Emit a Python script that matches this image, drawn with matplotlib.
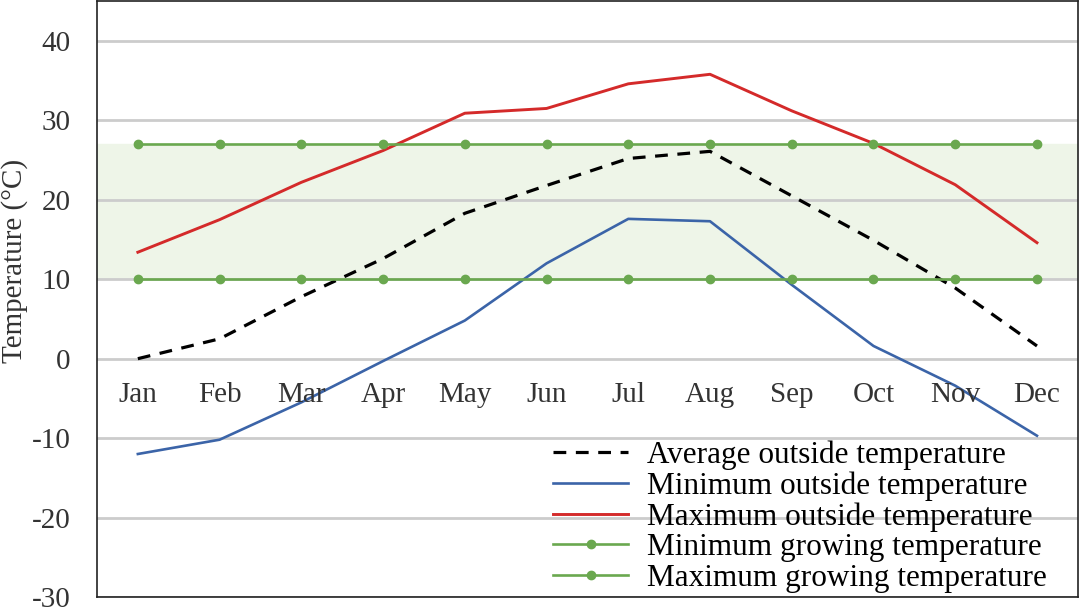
import numpy as np
import matplotlib.pyplot as plt

months = ['Jan', 'Feb', 'Mar', 'Apr', 'May', 'Jun', 'Jul', 'Aug', 'Sep', 'Oct', 'Nov', 'Dec']
avg_temp = [0.0, 2.5, 7.8, 12.6, 18.3, 21.8, 25.2, 26.1, 20.5, 14.9, 8.9, 1.6]
min_temp = [-12.0, -10.2, -5.5, -0.3, 4.8, 12.0, 17.6, 17.3, 9.3, 1.6, -3.4, -9.7]
max_temp = [13.4, 17.5, 22.2, 26.2, 30.9, 31.5, 34.6, 35.8, 31.2, 27.1, 21.9, 14.6]
min_grow = [10] * 12
max_grow = [27] * 12

plt.rcParams['font.family'] = ['Liberation Serif', 'DejaVu Serif']
plt.rcParams['axes.unicode_minus'] = False

fig = plt.figure(figsize=(10.8, 6.07), dpi=100)
ax = fig.add_axes([0.0898, 0.0165, 0.9082, 0.9815])

x = np.arange(len(months))
green = '#6aa84f'

# growing band
ax.axhspan(min_grow[0], max_grow[0], color='#eef5e8', zorder=0)

ax.plot(x, avg_temp, color='black', ls=(0, (4, 3)), lw=2.3, label='Average outside temperature')
ax.plot(x, min_temp, color='#3b64a8', lw=1.9, label='Minimum outside temperature')
ax.plot(x, max_temp, color='#d42a2a', lw=2.1, label='Maximum outside temperature')
ax.plot(x, min_grow, color=green, lw=1.9, marker='o', ms=6, label='Minimum growing temperature')
ax.plot(x, max_grow, color=green, lw=1.9, marker='o', ms=6, label='Maximum growing temperature')

ax.set_xlim(-0.5, 11.5)
ax.set_ylim(-30, 45)
ax.set_yticks(range(-30, 41, 10))
ax.set_xticks([])
ax.grid(axis='y', color='#cccccc', lw=2, zorder=0)
ax.set_axisbelow(True)
ax.tick_params(axis='y', length=0, pad=19, labelsize=21, labelcolor='#333333')
for s in ax.spines.values():
    s.set_color('#222222')
    s.set_linewidth(1.2)

# month labels sit inside the plot, below the zero line
for i, m in enumerate(months):
    ax.text(i, -4.6, m, ha='center', va='center', fontsize=21, color='#333333')

ax.set_ylabel('Temperature (\u00b0C)', fontsize=21, color='#333333')
ax.yaxis.set_label_coords(-0.0703, 0.564)

ax.legend(loc='lower right', bbox_to_anchor=(0.989, -0.027), frameon=False, fontsize=22.5,
          handlelength=2.4, labelspacing=0.05, handletextpad=0.6, borderpad=0.15)

fig.savefig('out.png', dpi=100)
